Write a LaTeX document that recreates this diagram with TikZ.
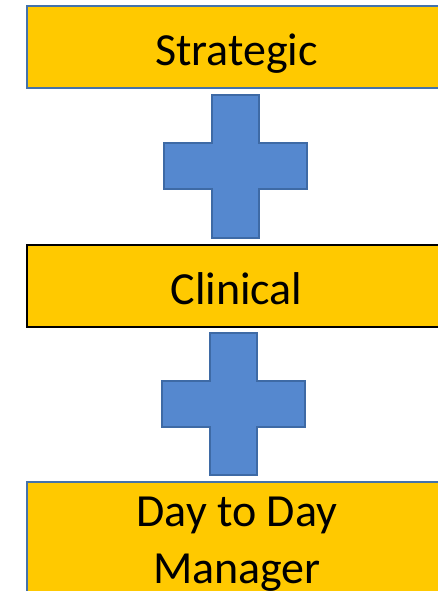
\documentclass[tikz,border=0pt]{standalone}
\usepackage{fontspec}
\setmainfont{Carlito}
\definecolor{boxyellow}{RGB}{255,201,0}
\definecolor{boxblue}{RGB}{68,114,170}
\definecolor{plusfill}{RGB}{85,136,207}
\definecolor{plusedge}{RGB}{62,106,165}
\begin{document}
\begin{tikzpicture}[x=1pt,y=-1pt,
  levelbox/.style={draw, line width=2pt, fill=boxyellow, inner sep=0pt},
  leveltext/.style={font=\fontsize{46}{57}\selectfont, inner sep=0pt, anchor=base, align=center},
  plus/.style={draw=plusedge, fill=plusfill, line width=2pt, line join=miter}]
\useasboundingbox (0,0) rectangle (438,591);
\clip (0,0) rectangle (438,591);
\node[levelbox, draw=boxblue, minimum width=419pt, minimum height=82pt] (strategic) at (236.5,47) {};
\node[leveltext] (strategictext) at (236.5,66) {Strategic};
\node[levelbox, draw=black, minimum width=419pt, minimum height=82pt] (clinical) at (236.5,286) {};
\node[leveltext] (clinicaltext) at (236.5,304) {Clinical};
\node[levelbox, draw=boxblue, minimum width=419pt, minimum height=160pt] (day) at (236.5,562) {};
\node[leveltext] (daytext1) at (237,526) {Day to Day};
\node[leveltext] (daytext2) at (237,583) {Manager};
% plus 1
\draw[plus] (212,95) -- (259,95) -- (259,143) -- (307,143) -- (307,189) -- (259,189) -- (259,238) -- (212,238) -- (212,189) -- (164,189) -- (164,143) -- (212,143) -- cycle;
% plus 2
\draw[plus] (210,333) -- (257,333) -- (257,381) -- (305,381) -- (305,427) -- (257,427) -- (257,475) -- (210,475) -- (210,427) -- (162,427) -- (162,381) -- (210,381) -- cycle;
\end{tikzpicture}
\end{document}
